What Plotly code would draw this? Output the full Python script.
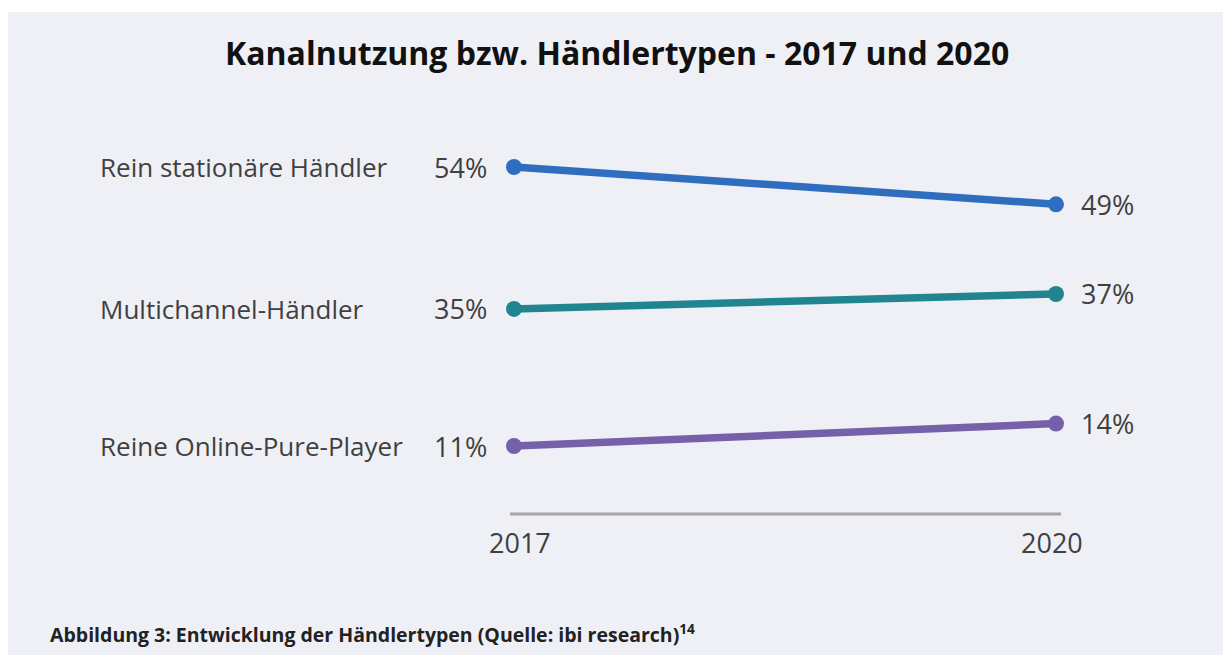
import plotly.graph_objects as go

years = [2017, 2020]
categories = ["Rein stationäre Händler", "Multichannel-Händler", "Reine Online-Pure-Player"]
values = [[54, 49], [35, 37], [11, 14]]
colors = ["#2f6ebf", "#21858f", "#7461a9"]
axes = ["y", "y", "y2"]
title = "Kanalnutzung bzw. Händlertypen - 2017 und 2020"
caption = "Abbildung 3: Entwicklung der Händlertypen (Quelle: ibi research)<sup>14</sup>"

W, H = 1231, 655
OFF = 8  # page body margin
FONT = "Open Sans"
TXT = "#404040"


def fx(p):
    return (p - OFF) / W


def fy(p):
    return 1 - (p - OFF) / H


fig = go.Figure()
for cat, vals, col, ax in zip(categories, values, colors, axes):
    fig.add_trace(go.Scatter(
        x=years, y=vals, mode="lines+markers", name=cat, yaxis=ax,
        line=dict(color=col, width=7.5), marker=dict(color=col, size=16),
        cliponaxis=False, showlegend=False, hoverinfo="skip"))
    fig.add_annotation(x=years[0], y=vals[0], xref="x", yref=ax, text=f"{vals[0]}%",
                       showarrow=False, xanchor="right", xshift=-25,
                       font=dict(family=FONT, size=27, color=TXT))
    fig.add_annotation(x=years[1], y=vals[1], xref="x", yref=ax, text=f"{vals[1]}%",
                       showarrow=False, xanchor="left", xshift=23,
                       font=dict(family=FONT, size=27, color=TXT))
    fig.add_annotation(x=fx(98), y=vals[0], xref="paper", yref=ax, text=cat,
                       showarrow=False, xanchor="left",
                       font=dict(family=FONT, size=26, color=TXT))

# background panel
fig.add_shape(type="rect", xref="paper", yref="paper", x0=fx(8), x1=1, y0=0, y1=fy(12),
              fillcolor="#eff0f6", line=dict(width=0), layer="below")

fig.add_annotation(x=fx(617), y=fy(52), xref="paper", yref="paper", text=f"<b>{title}</b>",
                   showarrow=False, xanchor="center", yanchor="middle",
                   font=dict(family=FONT, size=32, color="#111111"))
fig.add_annotation(x=fx(48), y=fy(633), xref="paper", yref="paper", text=f"<b>{caption}</b>",
                   showarrow=False, xanchor="left", yanchor="middle",
                   font=dict(family=FONT, size=19.5, color="#222222"))

# x scale: 2017 at px 514, 2020 at px 1056, axis line from 510 to 1061
s = (1056 - 514) / 3
x0px, x1px = 510, 1061
xr = [2017 - (514 - x0px) / s, 2017 + (x1px - 514) / s]

# y scale: px per percentage point over the full figure height
sy = 7.47
span = H / sy
hi1 = 54 + (167 - OFF) / sy
hi2 = 11 + (446 - OFF) / sy

fig.update_layout(
    width=W, height=H, margin=dict(l=0, r=0, t=0, b=0),
    paper_bgcolor="white", plot_bgcolor="rgba(0,0,0,0)",
    xaxis=dict(domain=[fx(x0px), fx(x1px)], range=xr, tickvals=years,
               showgrid=False, zeroline=False, showline=False, showticklabels=False, ticks=""),
    yaxis=dict(range=[hi1 - span, hi1], visible=False, domain=[0, 1]),
    yaxis2=dict(range=[hi2 - span, hi2], visible=False, overlaying="y"),
)
# x-axis baseline
fig.add_shape(type="line", xref="paper", yref="paper", x0=fx(x0px), x1=fx(x1px),
              y0=fy(514), y1=fy(514), line=dict(color="#a6a6a6", width=3))
for yv in years:
    fig.add_annotation(x=yv, y=fy(542), xref="x", yref="paper", text=str(yv), showarrow=False,
                       xanchor="center", yanchor="middle", xshift=6 if yv == 2017 else -4,
                       font=dict(family=FONT, size=27, color=TXT))

fig.write_html("out.html")
